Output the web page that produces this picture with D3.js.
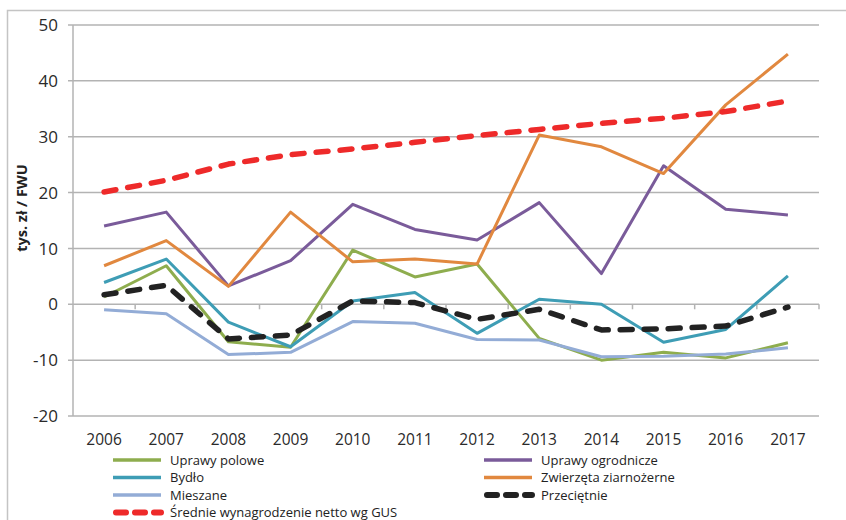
<!DOCTYPE html>
<html>
<head>
<meta charset="utf-8">
<script src="https://cdn.jsdelivr.net/npm/d3@7"></script>
<style>
  html, body { margin: 0; padding: 0; background: #fff; }
  svg { display: block; }
</style>
</head>
<body>
<svg id="chart" width="846" height="520"></svg>
<script>
const years = ["2006","2007","2008","2009","2010","2011","2012","2013","2014","2015","2016","2017"];
const yTicks = [-20, -10, 0, 10, 20, 30, 40, 50];

const uprawyPolowe      = [1.3, 6.9, -6.7, -7.7, 9.7, 4.9, 7.2, -6.1, -10.0, -8.6, -9.6, -6.9];
const uprawyOgrodnicze  = [14.0, 16.5, 3.3, 7.8, 17.9, 13.4, 11.5, 18.2, 5.5, 24.8, 17.0, 16.0];
const bydlo             = [3.9, 8.1, -3.2, -7.6, 0.6, 2.1, -5.2, 0.9, 0.0, -6.8, -4.5, 5.1];
const zwierzeta         = [6.9, 11.4, 3.2, 16.5, 7.6, 8.1, 7.2, 30.3, 28.2, 23.4, 35.7, 44.8];
const mieszane          = [-1.0, -1.7, -9.0, -8.6, -3.1, -3.4, -6.3, -6.4, -9.4, -9.3, -8.9, -7.8];
const przecietnie       = [1.7, 3.4, -6.2, -5.5, 0.6, 0.3, -2.7, -0.9, -4.6, -4.4, -3.9, -0.5];
const srednie           = [20.1, 22.2, 25.1, 26.8, 27.8, 29.0, 30.2, 31.3, 32.4, 33.3, 34.5, 36.4];

const seriesNames = ["Uprawy polowe","Uprawy ogrodnicze","Bydło","Zwierzęta ziarnożerne","Mieszane","Przeciętnie","Średnie wynagrodzenie netto wg GUS"];

const series = [
  {name: seriesNames[0], values: uprawyPolowe,     color: "#8EAD4E", width: 3,   dash: null},
  {name: seriesNames[1], values: uprawyOgrodnicze, color: "#7A5B9A", width: 3,   dash: null},
  {name: seriesNames[2], values: bydlo,            color: "#3E9DB5", width: 3,   dash: null},
  {name: seriesNames[3], values: zwierzeta,        color: "#E1883F", width: 3,   dash: null},
  {name: seriesNames[4], values: mieszane,         color: "#93ACD6", width: 3,   dash: null},
  {name: seriesNames[5], values: przecietnie,      color: "#222222", width: 5.5, dash: "12,12"},
  {name: seriesNames[6], values: srednie,          color: "#EE2A2A", width: 5.5, dash: "12,12"}
];

const svg = d3.select("#chart");
const pLeft = 73, pRight = 819, pTop = 25, pBottom = 416;
const font = "'Open Sans', 'Liberation Sans', sans-serif";

// outer border
svg.append("rect").attr("x", 7.5).attr("y", 10.5).attr("width", 900).attr("height", 600)
  .attr("fill", "none").attr("stroke", "#c4c4c4").attr("stroke-width", 1.5);

const x = d3.scaleBand().domain(years).range([pLeft, pRight]).padding(0);
const y = d3.scaleLinear().domain([-20, 50]).range([pBottom, pTop]);

// gridlines
svg.append("g").selectAll("line").data(yTicks).join("line")
  .attr("x1", pLeft - 5).attr("x2", pRight)
  .attr("y1", d => y(d)).attr("y2", d => y(d))
  .attr("stroke", "#b3b3b3").attr("stroke-width", 1.5);

// y axis line
svg.append("line").attr("x1", pLeft).attr("x2", pLeft).attr("y1", pTop).attr("y2", pBottom)
  .attr("stroke", "#b3b3b3").attr("stroke-width", 1.5);

// x tick marks at category boundaries below zero line
const bounds = years.map(d => x(d)).concat([pRight]);
svg.append("g").selectAll("line").data(bounds.slice(1)).join("line")
  .attr("x1", d => d).attr("x2", d => d)
  .attr("y1", y(0)).attr("y2", y(0) + 5)
  .attr("stroke", "#b3b3b3").attr("stroke-width", 1.5);

// y labels
svg.append("g").selectAll("text").data(yTicks).join("text")
  .attr("x", 58).attr("y", d => y(d)).attr("dy", "0.36em")
  .attr("text-anchor", "end")
  .attr("font-family", font).attr("font-size", 17).attr("fill", "#2a2a2a")
  .text(d => d);

// x labels
svg.append("g").selectAll("text").data(years).join("text")
  .attr("x", d => x(d) + x.bandwidth() / 2).attr("y", 445)
  .attr("text-anchor", "middle")
  .attr("font-family", font).attr("font-size", 15.5).attr("fill", "#2a2a2a")
  .text(d => d);

// y axis title
svg.append("text")
  .attr("transform", "translate(27,208) rotate(-90)")
  .attr("text-anchor", "middle")
  .attr("font-family", font).attr("font-size", 14.5).attr("font-weight", "bold").attr("fill", "#222")
  .text("tys. zł / FWU");

// lines
const line = d3.line()
  .x((d, i) => x(years[i]) + x.bandwidth() / 2)
  .y(d => y(d));

svg.append("g").selectAll("path").data(series).join("path")
  .attr("d", d => line(d.values))
  .attr("fill", "none")
  .attr("stroke", d => d.color)
  .attr("stroke-width", d => d.width)
  .attr("stroke-dasharray", d => d.dash)
  .attr("stroke-linecap", d => d.dash ? "round" : "butt")
  .attr("stroke-linejoin", "round");

// legend
const legendOrder = [
  {s: series[0], x: 113, y: 460},
  {s: series[2], x: 113, y: 477.5},
  {s: series[4], x: 113, y: 495},
  {s: series[6], x: 113, y: 512.5},
  {s: series[1], x: 484, y: 460},
  {s: series[3], x: 484, y: 477.5},
  {s: series[5], x: 484, y: 495}
];
const lg = svg.append("g").selectAll("g").data(legendOrder).join("g")
  .attr("transform", d => `translate(${d.x},${d.y})`);
lg.append("line")
  .attr("x1", d => d.s.dash ? 3 : 0).attr("x2", 48).attr("y1", 0).attr("y2", 0)
  .attr("stroke", d => d.s.color)
  .attr("stroke-width", d => d.s.dash ? 6 : 3.5)
  .attr("stroke-dasharray", d => d.s.dash ? "10,9" : null)
  .attr("stroke-linecap", d => d.s.dash ? "round" : "butt");
lg.append("text")
  .attr("x", 57).attr("y", 0).attr("dy", "0.36em")
  .attr("font-family", font).attr("font-size", 13).attr("fill", "#222")
  .text(d => d.s.name);
</script>
</body>
</html>
